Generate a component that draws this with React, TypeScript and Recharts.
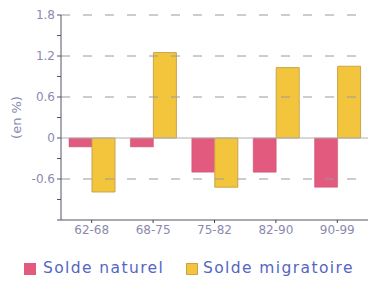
import React from 'react';
import { BarChart, Bar, XAxis, YAxis, ReferenceLine, Legend, Label } from 'recharts';

const periods = ['62-68', '68-75', '75-82', '82-90', '90-99'];
const soldeNaturel = [-0.13, -0.13, -0.5, -0.5, -0.72];
const soldeMigratoire = [-0.79, 1.25, -0.72, 1.03, 1.05];
const yTicks = [-1.2, -0.9, -0.6, -0.3, 0, 0.3, 0.6, 0.9, 1.2, 1.5, 1.8];
const majorTicks = [-0.6, 0, 0.6, 1.2, 1.8];
const gridValues = [-0.6, 0.6, 1.2, 1.8];

const data = periods.map((p, i) => ({
  period: p,
  naturel: soldeNaturel[i],
  migratoire: soldeMigratoire[i],
}));

const FONT = '"DejaVu Sans", Verdana, sans-serif';
const TICK_COLOR = '#8a8aae';
const PINK = '#e25a7e';
const YELLOW = '#f3c53c';

const fmt = (v: number) => {
  const r = Math.round(v * 10) / 10;
  if (!majorTicks.some((m) => Math.abs(m - r) < 1e-6)) return '';
  return r === 0 ? '0' : r.toFixed(1);
};

const LegendContent = () => (
  <div style={{ position: 'relative', width: 371, height: 20, fontFamily: FONT, fontSize: 15.5, letterSpacing: 1.4, color: '#5566c4' }}>
    <div style={{ position: 'absolute', left: 24, top: 4, width: 12, height: 12, background: PINK }} />
    <div style={{ position: 'absolute', left: 43, top: 0, whiteSpace: 'nowrap' }}>Solde naturel</div>
    <div style={{ position: 'absolute', left: 186, top: 4, width: 12, height: 12, background: YELLOW, border: '1px solid #c9a44c', boxSizing: 'border-box' }} />
    <div style={{ position: 'absolute', left: 203, top: 0, whiteSpace: 'nowrap' }}>Solde migratoire</div>
  </div>
);

export default function App() {
  return (
    <div style={{ position: 'absolute', left: 0, top: 0, width: 371, height: 293, background: '#fff' }}>
      <BarChart
        width={371}
        height={293}
        data={data}
        margin={{ top: 15, right: 3, bottom: 23, left: 0 }}
        barCategoryGap={8}
        barGap={0}
      >
        {gridValues.map((v) => (
          <ReferenceLine key={v} y={v} stroke="#9a9a9a" strokeDasharray="9 13" />
        ))}
        <ReferenceLine y={0} stroke="#b0b0b0" />
        <XAxis
          dataKey="period"
          stroke="#555566"
          tick={{ fill: TICK_COLOR, fontSize: 12, fontFamily: FONT }}
          tickLine={{ stroke: '#444' }}
          tickSize={3}
          height={30}
        />
        <YAxis
          domain={[-1.2, 1.8]}
          ticks={yTicks}
          interval={0}
          tickFormatter={fmt}
          width={61}
          stroke="#555566"
          tickSize={4}
          tick={{ fill: TICK_COLOR, fontSize: 12, fontFamily: FONT }}
        >
          <Label
            value="(en %)"
            angle={-90}
            position="insideLeft"
            offset={16}
            textAnchor="middle"
            fill={TICK_COLOR}
            fontSize={13}
            fontFamily={FONT}
          />
        </YAxis>
        <Legend
          content={<LegendContent />}
          wrapperStyle={{ position: 'absolute', top: 259, left: 0, width: 371, height: 20 }}
        />
        <Bar dataKey="naturel" name="Solde naturel" fill={PINK} stroke="#c84c6c" strokeWidth={0.5} isAnimationActive={false} />
        <Bar dataKey="migratoire" name="Solde migratoire" fill={YELLOW} stroke="#c9a44c" strokeWidth={1} isAnimationActive={false} />
      </BarChart>
    </div>
  );
}
